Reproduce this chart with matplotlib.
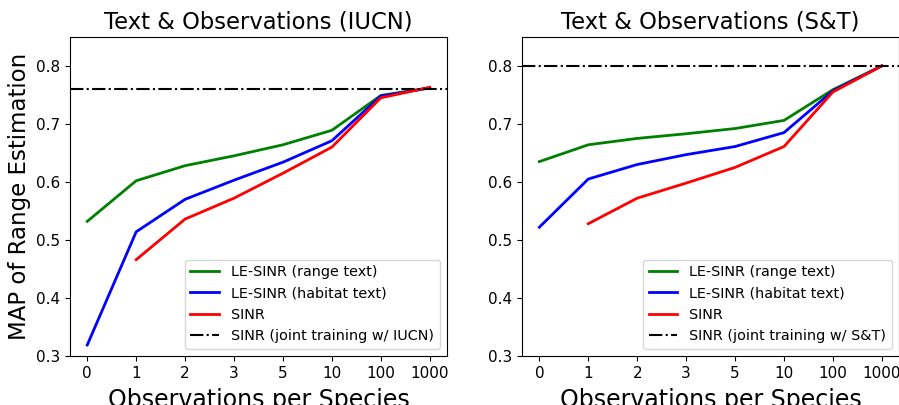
import numpy as np
import matplotlib
matplotlib.use("Agg")
import matplotlib.pyplot as plt

# x 축 눈금 (관측 수)
obs_labels = ["0", "1", "2", "3", "5", "10", "100", "1000"]

# IUCN
iucn_range = [0.532, 0.602, 0.628, 0.645, 0.664, 0.689, 0.749, 0.762]
iucn_habitat = [0.319, 0.514, 0.570, 0.603, 0.634, 0.671, 0.748, 0.762]
iucn_sinr = [None, 0.466, 0.536, 0.572, 0.615, 0.660, 0.745, 0.763]
iucn_joint = 0.760

# S&T
snt_range = [0.635, 0.664, 0.675, 0.683, 0.692, 0.706, 0.759, 0.800]
snt_habitat = [0.522, 0.605, 0.630, 0.647, 0.661, 0.685, 0.757, 0.800]
snt_sinr = [None, 0.528, 0.572, 0.598, 0.625, 0.661, 0.755, 0.800]
snt_joint = 0.800


def draw(ax, title, rng, hab, sinr, joint, joint_label):
    x = np.arange(len(obs_labels))
    s = np.array([np.nan if v is None else v for v in sinr])
    ax.plot(x, rng, color="green", lw=2, label="LE-SINR (range text)")
    ax.plot(x, hab, color="blue", lw=2, label="LE-SINR (habitat text)")
    ax.plot(x, s, color="red", lw=2, label="SINR")
    ax.axhline(joint, color="black", ls="-.", lw=1.5, label=joint_label)
    ax.set_xticks(x)
    ax.set_xticklabels(obs_labels)
    ax.set_ylim(0.3, 0.85)
    ax.set_title(title, fontsize=16.3)
    ax.set_xlabel("Observations per Species", fontsize=17, labelpad=5)
    ax.tick_params(labelsize=11)
    ax.legend(loc="lower right", fontsize=10.4)


fig, (ax1, ax2) = plt.subplots(1, 2, figsize=(8.99, 4.05), dpi=100)
fig.subplots_adjust(left=0.078, right=1.0, top=0.909, bottom=0.121, wspace=0.2)

draw(ax1, "Text & Observations (IUCN)", iucn_range, iucn_habitat, iucn_sinr,
     iucn_joint, "SINR (joint training w/ IUCN)")
draw(ax2, "Text & Observations (S&T)", snt_range, snt_habitat, snt_sinr,
     snt_joint, "SINR (joint training w/ S&T)")
ax1.set_ylabel("MAP of Range Estimation", fontsize=16.5)

fig.savefig("out.png", dpi=100)
